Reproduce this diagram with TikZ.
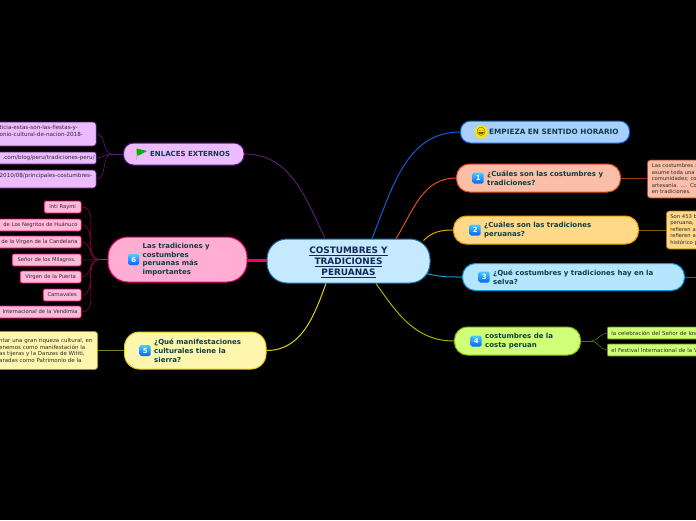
\documentclass[tikz,border=0pt]{standalone}
\usepackage{fontspec}
\setmainfont{DejaVu Sans}
\newfontfamily\emojifont{Noto Emoji}
\usepackage{xcolor}
\usetikzlibrary{positioning}

\definecolor{rootfill}{HTML}{C5E9FF}
\definecolor{rootedge}{HTML}{1B6CA8}
\definecolor{rootink}{HTML}{14285C}
\definecolor{topicink}{HTML}{0B3F44}
\definecolor{leafink}{HTML}{2A2A2A}
\definecolor{linksfill}{HTML}{EDBBFF}
\definecolor{linksedge}{HTML}{5A1A78}
\definecolor{startfill}{HTML}{A9CFFF}
\definecolor{startedge}{HTML}{0B5FD8}
\definecolor{onefill}{HTML}{FBBFA9}
\definecolor{oneedge}{HTML}{E0501F}
\definecolor{twofill}{HTML}{FFD988}
\definecolor{twoedge}{HTML}{E8A000}
\definecolor{threefill}{HTML}{B5E5FF}
\definecolor{threeedge}{HTML}{0A9BE0}
\definecolor{fourfill}{HTML}{D0FF78}
\definecolor{fouredge}{HTML}{8FBF00}
\definecolor{fivefill}{HTML}{FFF6AE}
\definecolor{fiveedge}{HTML}{DDCF20}
\definecolor{sixfill}{HTML}{FFADD3}
\definecolor{sixedge}{HTML}{F0006A}

\begin{document}
\begin{tikzpicture}[
        x=1pt, y=1pt,
        root/.style={rectangle, draw=rootedge, fill=rootfill, line width=1pt, rounded corners=20pt, minimum width=163pt, minimum height=44pt, align=center, inner sep=0pt, text=rootink, font=\fontsize{8.9}{11}\selectfont\bfseries},
        topic/.style={rectangle, line width=1pt, rounded corners=13pt, minimum height=28pt, inner sep=0pt},
        topictext/.style={inner sep=0pt, align=left, text=topicink, font=\fontsize{7}{8.8}\selectfont\bfseries},
        iconbox/.style={rectangle, rounded corners=1.5pt, minimum size=11pt, inner sep=0pt, top color=cyan!70!blue!70, bottom color=blue!60!cyan, text=white, font=\fontsize{7}{7}\selectfont\bfseries},
        leaf/.style={rectangle, line width=.7pt, rounded corners=2pt, inner xsep=0pt, inner ysep=0pt, text=leafink, font=\fontsize{5.25}{6.5}\selectfont},
        branch/.style={line width=1pt},
        twig/.style={line width=.6pt}
    ]

    \path[fill=black, use as bounding box] (0,0) rectangle (696,-520);

    \node[root] (root) at (348.5,-261) {\rule{0pt}{8.6pt}\underline{COSTUMBRES Y}\\\underline{TRADICIONES}\\\underline{PERUANAS}};

    % right side
    \node[topic, draw=startedge, fill=startfill, right=29.5pt of root, yshift=129pt, minimum width=169pt, minimum height=22pt, rounded corners=10pt] (start) {};
    \node[circle, fill=yellow!85!orange, minimum size=11pt, inner sep=0pt, right=14.5pt of start.west, font=\emojifont\fontsize{8}{8}\selectfont] (startface) {😄};
    \node[topictext, right=29pt of start.west, font=\fontsize{7.3}{8.8}\selectfont\bfseries] (starttext) {EMPIEZA EN SENTIDO HORARIO};

    \node[topic, draw=oneedge, fill=onefill, right=25.5pt of root, yshift=83pt, minimum width=164pt] (one) {};
    \node[iconbox, right=16.5pt of one.west] (oneicon) {1};
    \node[topictext, right=31pt of one.west] (onetext) {¿Cuáles son las costumbres y\\tradiciones?};
    \node[leaf, draw=oneedge!70!black, fill=onefill, right=26pt of one, yshift=-1pt, minimum height=38pt, text width=60pt, align=left, rounded corners=3pt] (oneleaf) {\hspace*{4.5pt}Las costumbres :\\\hspace*{4.5pt}asume toda una\\\hspace*{4.5pt}comunidades; co\\\hspace*{4.5pt}artesanía. .... Co\\\hspace*{4.5pt}en tradiciones.};

    \node[topic, draw=twoedge, fill=twofill, right=22.5pt of root, yshift=31pt, minimum width=185pt] (two) {};
    \node[iconbox, right=16.5pt of two.west] (twoicon) {2};
    \node[topictext, right=31pt of two.west] (twotext) {¿Cuáles son las tradiciones\\peruanas?};
    \node[leaf, draw=twoedge!70!black, fill=twofill, right=27pt of two, minimum height=38pt, text width=45pt, align=left, rounded corners=3pt] (twoleaf) {\hspace*{4pt}Son 453 b\\\hspace*{4pt}peruana,\\\hspace*{4pt}refieren a\\\hspace*{4pt}refieren a\\\hspace*{4pt}histórico p};

    \node[topic, draw=threeedge, fill=threefill, right=31.5pt of root, yshift=-16pt, minimum width=222pt, minimum height=27pt] (three) {};
    \node[iconbox, right=16.5pt of three.west] (threeicon) {3};
    \node[topictext, right=31pt of three.west] (threetext) {¿Qué costumbres y tradiciones hay en la\\selva?};
    \coordinate[right=14pt of three] (threeend);

    \node[topic, draw=fouredge, fill=fourfill, right=23.5pt of root, yshift=-80pt, minimum width=126pt] (four) {};
    \node[iconbox, right=16.5pt of four.west] (fouricon) {4};
    \node[topictext, right=31pt of four.west] (fourtext) {costumbres de la\\costa peruan};
    \coordinate[right=10pt of four] (fourhub);
    \node[leaf, draw=fouredge!70!black, fill=fourfill, right=26pt of four, yshift=8pt, minimum height=12pt, text width=110pt, align=left, rounded corners=1pt, font=\fontsize{5.5}{6.5}\selectfont] (fourleafa) {\hspace*{4pt}la celebración del Señor de los};
    \node[leaf, draw=fouredge!70!black, fill=fourfill, right=26pt of four, yshift=-9pt, minimum height=12pt, text width=110pt, align=left, rounded corners=1pt, font=\fontsize{5.5}{6.5}\selectfont] (fourleafb) {\hspace*{4pt}el Festival Internacional de la V};

    % left side
    \node[topic, draw=fiveedge, fill=fivefill, left=0pt of root, yshift=-89.5pt, minimum width=141.5pt, minimum height=37pt, rounded corners=15pt] (five) {};
    \node[iconbox, right=15.5pt of five.west] (fiveicon) {5};
    \node[topictext, right=30pt of five.west] (fivetext) {¿Qué manifestaciones\\culturales tiene la\\sierra?};
    \node[leaf, draw=fiveedge!70!black, fill=fivefill, left=26pt of five, minimum height=38pt, text width=110pt, align=left, rounded corners=3pt, font=\fontsize{5.5}{6.6}\selectfont] (fiveleaf) {\hspace*{11.5pt}ntar una gran riqueza cultural, en\\\hspace*{11.5pt}enemos como manifestación la\\\hspace*{11.5pt}as tijeras y la Danzas de Wititi,\\\hspace*{11.5pt}aradas como Patrimonio de la};

    \node[topic, draw=sixedge, fill=sixfill, left=19pt of root, yshift=1.5pt, minimum width=139pt, minimum height=45pt, rounded corners=20pt] (six) {};
    \node[iconbox, right=20.5pt of six.west] (sixicon) {6};
    \node[topictext, right=35pt of six.west] (sixtext) {Las tradiciones y\\costumbres\\peruanas más\\importantes};
    \coordinate[left=8pt of six] (sixhub);
    \node[leaf, draw=sixedge, fill=sixfill!85!white, left=26pt of six, yshift=52.5pt, minimum height=12pt, text width=37pt, align=center] (inti) {Inti Raymi};
    \node[leaf, draw=sixedge, fill=sixfill!85!white, left=26pt of six, yshift=34.5pt, minimum height=12pt, text width=100pt, align=right] (negritos) {de Los Negritos de Huánuco\hspace*{3.5pt}};
    \node[leaf, draw=sixedge, fill=sixfill!85!white, left=26pt of six, yshift=17.5pt, minimum height=12pt, text width=100pt, align=right] (candelaria) {de la Virgen de la Candelaria\hspace*{3.5pt}};
    \node[leaf, draw=sixedge, fill=sixfill!85!white, left=26pt of six, yshift=-.5pt, minimum height=12pt, text width=69pt, align=center] (senor) {Señor de los Milagros.};
    \node[leaf, draw=sixedge, fill=sixfill!85!white, left=26pt of six, yshift=-17.5pt, minimum height=12pt, text width=61pt, align=center] (puerta) {Virgen de la Puerta};
    \node[leaf, draw=sixedge, fill=sixfill!85!white, left=26pt of six, yshift=-35.5pt, minimum height=12pt, text width=38pt, align=center] (carnavales) {Carnavales};
    \node[leaf, draw=sixedge, fill=sixfill!85!white, left=26pt of six, yshift=-52.5pt, minimum height=12pt, text width=100pt, align=right] (vendimia) {Internacional de la Vendimia\hspace*{3.5pt}};

    \node[topic, draw=linksedge, fill=linksfill, left=22pt of root, yshift=107pt, minimum width=120.5pt, minimum height=22pt, rounded corners=10pt] (links) {};
    \coordinate[right=13.5pt of links.west] (flagbase);
    \draw[line width=.6pt, pink!70!gray] ([yshift=5.5pt]flagbase) -- ([yshift=-6pt]flagbase);
    \fill[green!70!black] ([yshift=5.5pt]flagbase) -- ([xshift=10.5pt,yshift=3pt]flagbase) -- ([xshift=1pt,yshift=-2pt]flagbase) -- cycle;
    \node[topictext, right=27pt of links.west] (linkstext) {ENLACES EXTERNOS};
    \coordinate[left=11pt of links] (linkshub);
    \node[leaf, draw=linksedge, fill=linksfill, left=26.5pt of links, yshift=20pt, minimum height=24pt, text width=110pt, align=left, rounded corners=3pt, font=\fontsize{5.6}{6.5}\selectfont] (linka) {\hspace*{13.5pt}ticia-estas-son-las-fiestas-y-\\\hspace*{13.5pt}onio-cultural-de-nacion-2018-\\~};
    \node[leaf, draw=linksedge, fill=linksfill, left=26.5pt of links, yshift=-4pt, minimum height=12pt, text width=110pt, align=right, rounded corners=2pt, font=\fontsize{5.6}{6.5}\selectfont] (linkb) {.com/blog/peru/tradiciones-peru/\hspace*{1.5pt}};
    \node[leaf, draw=linksedge, fill=linksfill, left=26.5pt of links, yshift=-25pt, minimum height=18pt, text width=110pt, align=left, rounded corners=3pt, font=\fontsize{5.6}{6.5}\selectfont] (linkc) {\hspace*{13.5pt}2010/08/principales-costumbres-\\~};

    % connectors
    \draw[branch, draw=linksedge] ([xshift=-23.5pt]root.north) to[out=115, in=0] (links.east);
    \draw[branch, draw=startedge] ([xshift=23.5pt]root.north) to[out=68, in=180] (start.west);
    \draw[branch, draw=oneedge] ([xshift=47.5pt]root.north) to[out=58, in=180] (one.west);
    \draw[branch, draw=twoedge] ([shift={(-7pt,-2pt)}]root.north east) to[out=45, in=180] (two.west);
    \draw[branch, draw=threeedge] ([shift={(-4pt,10pt)}]root.south east) to[out=-15, in=180] (three.west);
    \draw[branch, draw=fouredge] ([xshift=27.5pt]root.south) to[out=-55, in=180] (four.west);
    \draw[branch, draw=fiveedge] ([xshift=-22.5pt]root.south) to[out=-110, in=0] (five.east);
    \draw[draw=sixedge, line width=2.2pt] ([yshift=.5pt]root.west) -- ([yshift=-1pt]six.east);

    \draw[twig, draw=oneedge!70!black] (one.east) -- (oneleaf.west |- one.east);
    \draw[twig, draw=twoedge!60!black] (two.east) -- (twoleaf.west);
    \draw[twig, draw=threeedge!70!black] (three.east) -- (threeend);
    \draw[twig, draw=fouredge!60!black] (four.east) -- (fourhub);
    \draw[twig, draw=fouredge!60!black] (fourhub) to[out=0, in=180] (fourleafa.west);
    \draw[twig, draw=fouredge!60!black] (fourhub) to[out=0, in=180] (fourleafb.west);
    \draw[branch, draw=fiveedge!60!black] (five.west) -- (fiveleaf.east);

    \draw[branch, draw=sixedge] (six.west) -- (sixhub);
    \draw[twig, draw=sixedge!60!black] (sixhub) to[out=180, in=0] (inti.east);
    \draw[twig, draw=sixedge!60!black] (sixhub) to[out=180, in=0] (negritos.east);
    \draw[twig, draw=sixedge!60!black] (sixhub) to[out=180, in=0] (candelaria.east);
    \draw[twig, draw=sixedge!60!black] (sixhub) to[out=180, in=0] (senor.east);
    \draw[twig, draw=sixedge!60!black] (sixhub) to[out=180, in=0] (puerta.east);
    \draw[twig, draw=sixedge!60!black] (sixhub) to[out=180, in=0] (carnavales.east);
    \draw[twig, draw=sixedge!60!black] (sixhub) to[out=180, in=0] (vendimia.east);

    \draw[branch, draw=linksedge] (links.west) -- (linkshub);
    \draw[twig, draw=linksedge] (linkshub) to[out=180, in=0] (linka.east);
    \draw[twig, draw=linksedge] (linkshub) to[out=180, in=0] (linkb.east);
    \draw[twig, draw=linksedge] (linkshub) to[out=180, in=0] (linkc.east);

    \end{tikzpicture}
\end{document}
